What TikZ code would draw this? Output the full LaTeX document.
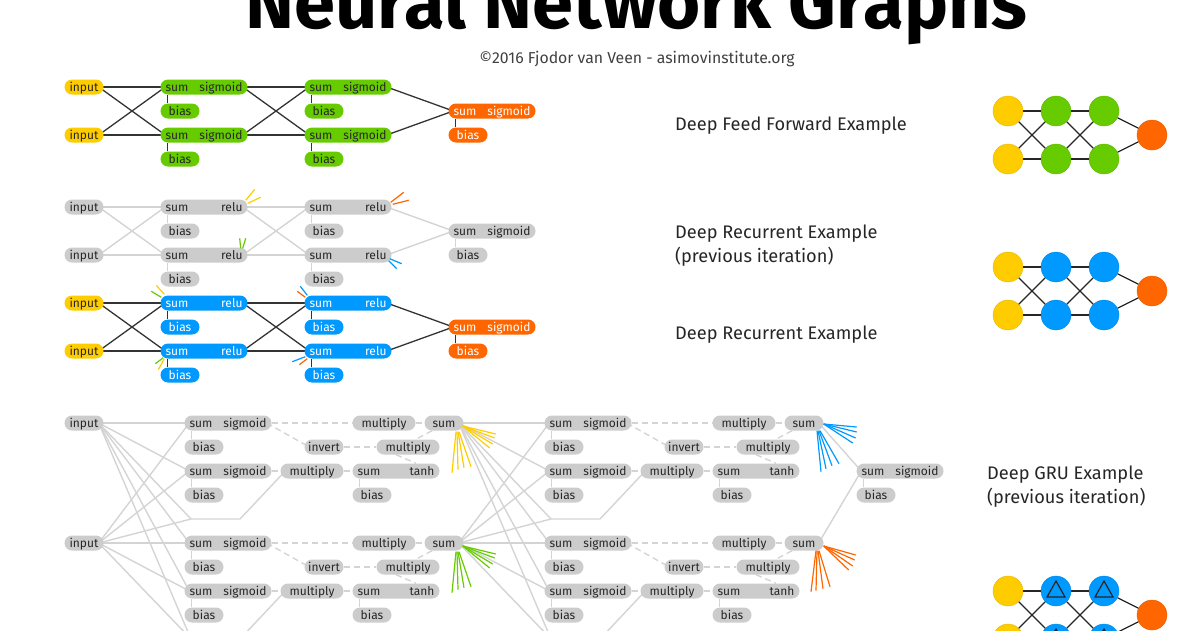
\documentclass[tikz,border=0pt]{standalone}
\usepackage{fontspec}
\setmainfont{Fira Sans}
\usetikzlibrary{backgrounds}
\definecolor{yel}{HTML}{FFCC00}
\definecolor{grn}{HTML}{66CC00}
\definecolor{blu}{HTML}{0099FF}
\definecolor{org}{HTML}{FF6600}
\definecolor{gry}{HTML}{CCCCCC}
\tikzset{
	pill/.style={rectangle,rounded corners=7.5pt,inner sep=0pt,minimum height=15pt,text height=9pt,text depth=0.5pt,font=\fontsize{12}{12}\selectfont,text=black!85},
	wide/.style={minimum width=87pt,text width=77pt},
	mid/.style={minimum width=63pt},
	narrow/.style={minimum width=39pt},
	yelnode/.style={fill=yel},
	grnnode/.style={fill=grn},
	grynode/.style={fill=gry},
	blunode/.style={fill=blu,text=white},
	orgnode/.style={fill=org,text=white},
	link/.style={draw=black!80,line width=1.3pt},
	pale/.style={draw=gry!85,line width=1.4pt},
	paledash/.style={pale,dash pattern=on 6pt off 4pt},
	stub/.style={line width=1.2pt},
	dot/.style={circle,minimum size=30pt,inner sep=0pt,line width=.4pt},
	caption/.style={anchor=west,align=left,inner sep=0pt,font=\fontsize{18.2}{24}\selectfont,text=black!85}
}

\begin{document}
\begin{tikzpicture}[x=1pt,y=-1pt]
	\useasboundingbox (0,0) rectangle (1200,630);
	\node[font=\fontsize{74}{74}\selectfont\bfseries,anchor=base] (title) at (636,28) {Neural Network Graphs};
	\node[font=\fontsize{15.8}{15.8}\selectfont,text=black!75] (credit) at (637,59) {©2016 Fjodor van Veen - asimovinstitute.org};

	% the three small networks on the left
	\foreach \sect/\yy/\cin/\chid/\cout/\hidname/\lk in {ff/87/yelnode/grnnode/orgnode/sigmoid/link,rp/207/grynode/grynode/grynode/relu/pale,rc/303/yelnode/blunode/orgnode/relu/link} {
		\begin{scope}[shift={(0,\yy)}]
			\node[pill,narrow,\cin] (\sect i1) at (84,0) {input};
			\node[pill,narrow,\cin] (\sect i2) at (84,48) {input};
			\foreach \c/\xx in {a/204,b/348} {
				\node[pill,wide,\chid] (\sect\c1) at (\xx,0) {sum\hfill\hidname};
				\node[pill,wide,\chid] (\sect\c2) at (\xx,48) {sum\hfill\hidname};
			}
			\node[pill,narrow,\chid] (\sect ab1) at (180,24) {bias};
			\node[pill,narrow,\chid] (\sect ab2) at (180,72) {bias};
			\node[pill,narrow,\chid] (\sect bb1) at (324,24) {bias};
			\node[pill,narrow,\chid] (\sect bb2) at (324,72) {bias};
			\node[pill,wide,\cout] (\sect o) at (492,24) {sum\hfill sigmoid};
			\node[pill,narrow,\cout] (\sect ob) at (468,48) {bias};
		\end{scope}
		\begin{pgfonlayer}{background}
			\foreach \src/\tgt in {i1/a1,i1/a2,i2/a1,i2/a2,a1/b1,a1/b2,a2/b1,a2/b2,b1/o,b2/o}
				\draw[\lk] ([xshift=-5pt]\sect\src.east) -- ([xshift=5pt]\sect\tgt.west);
			\foreach \src/\tgt in {a1/ab1,a2/ab2,b1/bb1,b2/bb2,o/ob}
				\draw[\lk] ([xshift=7pt]\sect\src.south west) -- ([xshift=7pt]\sect\tgt.north west);
		\end{pgfonlayer}
	}

	% recurrent stubs
	\draw[stub,yel] (rpa1.north east) ++(-2,1) -- ++(9,-11);
	\draw[stub,yel] (rpa1.north east) ++(0,4) -- ++(13,-6);
	\draw[stub,grn] (rpa2.north east) ++(-7,1) -- ++(-1,-10);
	\draw[stub,grn] (rpa2.north east) ++(-5,1) -- ++(3,-10);
	\draw[stub,org] (rpb1.north east) ++(-1,3) -- ++(13,-10);
	\draw[stub,org] (rpb1.north east) ++(1,5) -- ++(16,-4);
	\draw[stub,blu] (rpb2.south east) ++(-2,-4) -- ++(12,5);
	\draw[stub,blu] (rpb2.south east) ++(-3,-2) -- ++(8,8);
	\draw[stub,yel] (rca1.north west) ++(4,-1) -- ++(-8,-9);
	\draw[stub,grn] (rca1.north west) ++(1,2) -- ++(-10,-6);
	\draw[stub,grn] (rca2.south west) ++(3,-1) -- ++(-8,6);
	\draw[stub,yel] (rca2.south west) ++(4,0) -- ++(-6,11);
	\draw[stub,blu] (rcb1.north west) ++(3,0) -- ++(-7,-9);
	\draw[stub,org] (rcb1.north west) ++(1,2) -- ++(-8,-6);
	\draw[stub,blu] (rcb2.south west) ++(1,-2) -- ++(-13,5);
	\draw[stub,org] (rcb2.south west) ++(3,0) -- ++(-8,6);

	% the gru network
	\node[pill,narrow,grynode] (gi1) at (84,423) {input};
	\node[pill,narrow,grynode] (gi2) at (84,543) {input};
	\foreach \lay/\dx in {a/0,b/360} {
		\foreach \unit/\dy in {a/0,b/120} {
			\begin{scope}[shift={(\dx,\dy)}]
				\node[pill,wide,grynode] (\lay\unit sig1) at (228,423) {sum\hfill sigmoid};
				\node[pill,narrow,grynode] (\lay\unit sig1b) at (204,447) {bias};
				\node[pill,mid,grynode] (\lay\unit mula) at (384,423) {multiply};
				\node[pill,narrow,grynode] (\lay\unit sum) at (444,423) {sum};
				\node[pill,narrow,grynode] (\lay\unit inv) at (324,447) {invert};
				\node[pill,mid,grynode] (\lay\unit mulb) at (408,447) {multiply};
				\node[pill,wide,grynode] (\lay\unit sig2) at (228,471) {sum\hfill sigmoid};
				\node[pill,narrow,grynode] (\lay\unit sig2b) at (204,495) {bias};
				\node[pill,mid,grynode] (\lay\unit mulc) at (312,471) {multiply};
				\node[pill,wide,grynode] (\lay\unit tanh) at (396,471) {sum\hfill tanh};
				\node[pill,narrow,grynode] (\lay\unit tanhb) at (372,495) {bias};
				\coordinate (\lay\unit ja) at (191,519);
				\coordinate (\lay\unit jb) at (240,519);
			\end{scope}
			\begin{pgfonlayer}{background}
				\draw[paledash] (\lay\unit sig1.east) -- (\lay\unit mula.west);
				\draw[paledash] ([xshift=-5pt]\lay\unit sig1.east) -- ([xshift=5pt]\lay\unit inv.west);
				\draw[paledash] (\lay\unit inv.east) -- (\lay\unit mulb.west);
				\draw[paledash] (\lay\unit mula.east) -- (\lay\unit sum.west);
				\draw[paledash] ([xshift=-12pt]\lay\unit sum.south) -- ([xshift=-24pt]\lay\unit mulb.north east);
				\draw[paledash] (\lay\unit sig2.east) -- (\lay\unit mulc.west);
				\draw[paledash] (\lay\unit mulc.east) -- (\lay\unit tanh.west);
				\draw[paledash] ([xshift=-12pt]\lay\unit mulb.south) -- ([xshift=20pt]\lay\unit tanh.north);
				\draw[pale] (\lay\unit ja) -- (\lay\unit jb) -- ([xshift=5pt]\lay\unit mulc.west);
				\foreach \src/\tgt in {sig1/sig1b,sig2/sig2b,tanh/tanhb}
					\draw[pale] ([xshift=7pt]\lay\unit\src.south west) -- ([xshift=7pt]\lay\unit\tgt.north west);
			\end{pgfonlayer}
		}
	}
	\node[pill,wide,grynode] (go) at (900,471) {sum\hfill sigmoid};
	\node[pill,narrow,grynode] (gob) at (876,495) {bias};

	% everything feeds every next gate
	\begin{pgfonlayer}{background}
		\foreach \src/\lay in {gi1/a,gi2/a,aasum/b,absum/b} {
			\foreach \unit in {a,b} {
				\draw[pale] ([xshift=-5pt]\src.east) -- ([xshift=5pt]\lay\unit sig1.west);
				\draw[pale] ([xshift=-5pt]\src.east) -- ([xshift=5pt]\lay\unit sig2.west);
				\draw[pale] ([xshift=-5pt]\src.east) -- (\lay\unit ja);
			}
		}
		\draw[pale] ([xshift=-5pt]basum.east) -- ([xshift=5pt]go.west);
		\draw[pale] ([xshift=-5pt]bbsum.east) -- ([xshift=5pt]go.west);
		\draw[pale] ([xshift=7pt]go.south west) -- ([xshift=7pt]gob.north west);
	\end{pgfonlayer}

	% recurrent fans
	\foreach \n/\col in {aasum/yel,absum/grn} {
		\foreach \ex/\ey in {33/8,32/12,30/18,27/22}
			\draw[stub,\col] (\n.east) ++(-1,3) -- ++(\ex,\ey);
		\foreach \sx/\ex/\ey in {12/-4/41,13/1/38,14/6/36,15/12/35}
			\draw[stub,\col] (\n.south) ++(\sx,1) -- ++(\ex,\ey);
	}
	\foreach \ex/\ey in {33/3,33/8,32/14,29/19}
		\draw[stub,blu] (basum.east) ++(0,1) -- ++(\ex,\ey);
	\foreach \sx/\ex/\ey in {13/4/41,14/8/38,15/13/35,16/19/33}
		\draw[stub,blu] (basum.south) ++(\sx,0) -- ++(\ex,\ey);
	\foreach \ex/\ey in {32/9,31/14,29/20,25/24}
		\draw[stub,org] (bbsum.east) ++(0,3) -- ++(\ex,\ey);
	\foreach \sx/\ex/\ey in {12/-5/41,13/-1/40,14/5/38,15/11/36}
		\draw[stub,org] (bbsum.south) ++(\sx,0) -- ++(\ex,\ey);

	% captions
	\node[caption] (capff) at (675,126) {Deep Feed Forward Example};
	\node[caption] (caprp) at (675,246) {Deep Recurrent Example\\(previous iteration)};
	\node[caption] (caprc) at (675,335) {Deep Recurrent Example};
	\node[caption] (capgr) at (987,487) {Deep GRU Example\\(previous iteration)};

	% the round networks on the right
	\foreach \net/\yy/\col in {mf/111/grn,mr/267/blu,mg/591/blu} {
		\node[dot,fill=yel,draw=yel!90!black] (\net i1) at (1008,\yy) {};
		\node[dot,fill=yel,draw=yel!90!black] (\net i2) at (1008,\yy+48) {};
		\node[dot,fill=\col,draw=\col!90!black] (\net a1) at (1056,\yy) {};
		\node[dot,fill=\col,draw=\col!90!black] (\net a2) at (1056,\yy+48) {};
		\node[dot,fill=\col,draw=\col!90!black] (\net b1) at (1104,\yy) {};
		\node[dot,fill=\col,draw=\col!90!black] (\net b2) at (1104,\yy+48) {};
		\node[dot,fill=org,draw=org!90!black] (\net o) at (1152,\yy+24) {};
		\foreach \src/\tgt in {i1/a1,i1/a2,i2/a1,i2/a2,a1/b1,a1/b2,a2/b1,a2/b2,b1/o,b2/o}
			\draw[black!85,line width=1.2pt] (\net\src) -- (\net\tgt);
	}
	\foreach \n in {mga1,mga2,mgb1,mgb2}
		\draw[black!85,line width=1.2pt] ([shift={(-9,6)}]\n.center) -- ([shift={(0,-10)}]\n.center) -- ([shift={(9,6)}]\n.center) -- cycle;
\end{tikzpicture}
\end{document}
